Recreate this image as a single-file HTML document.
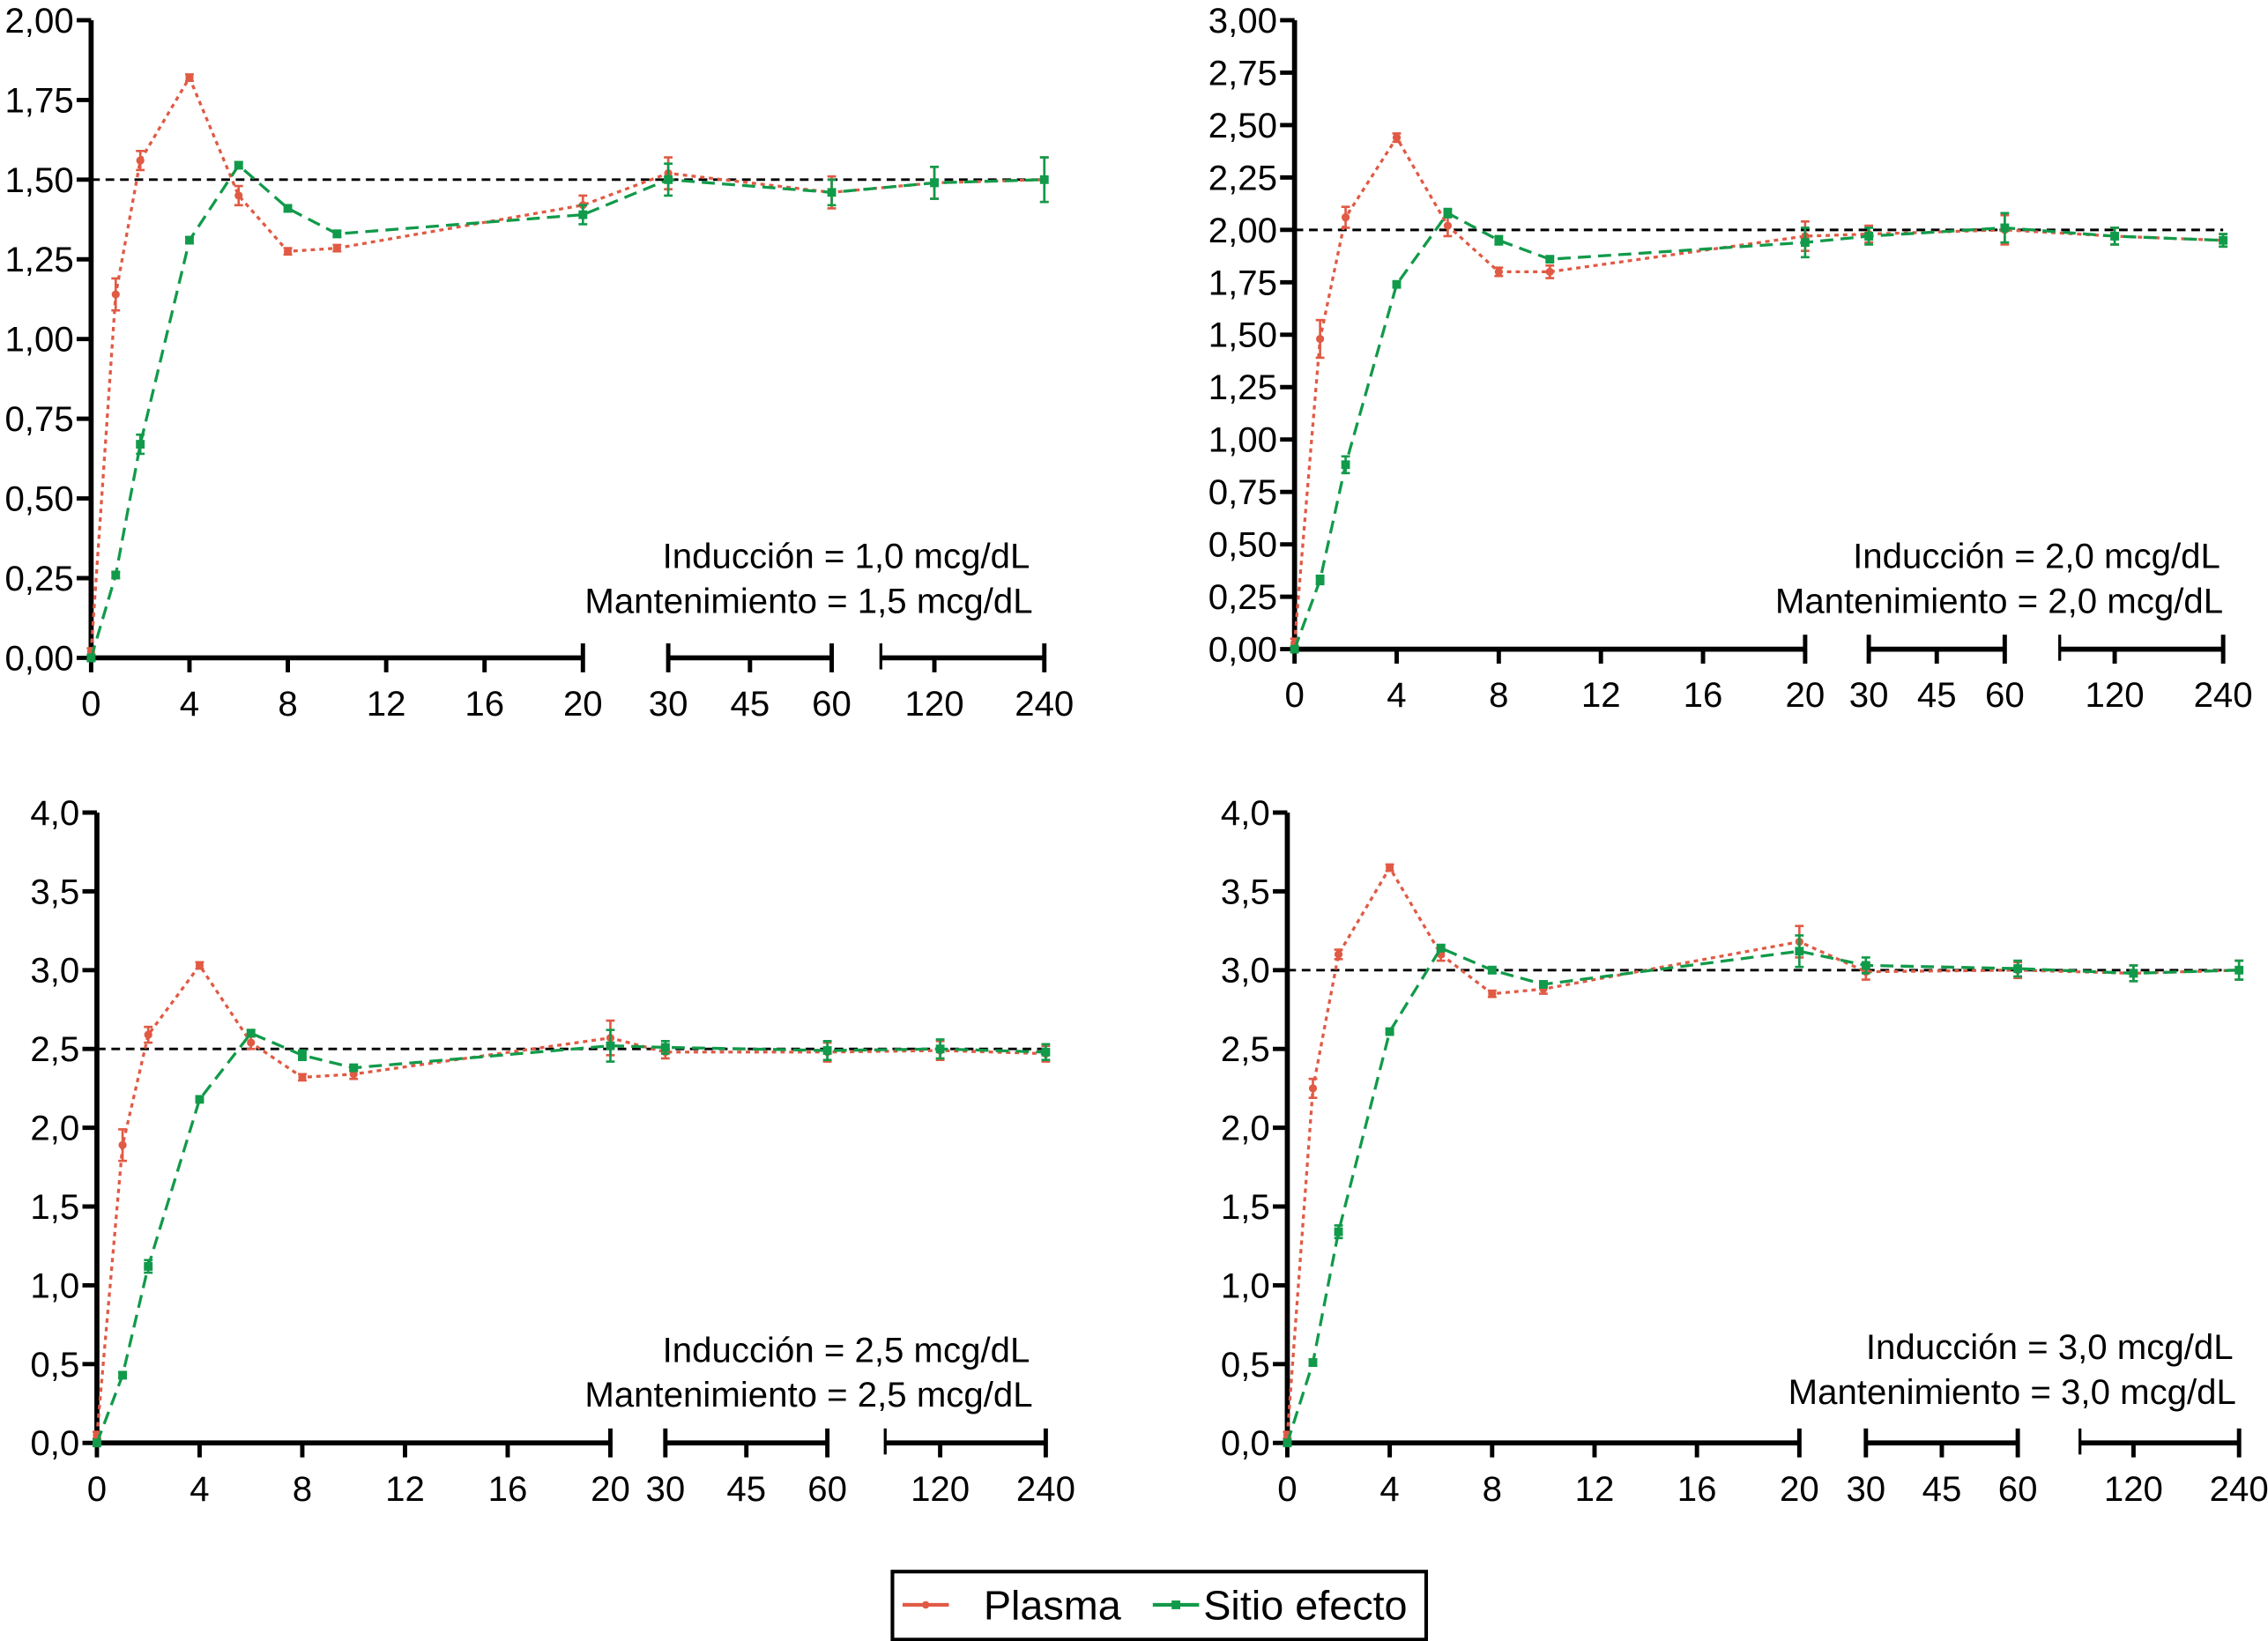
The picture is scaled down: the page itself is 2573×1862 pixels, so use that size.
<!DOCTYPE html>
<html><head><meta charset="utf-8"><style>
html,body{margin:0;padding:0;background:#fff;}
svg{display:block;}
text{font-family:"Liberation Sans",sans-serif;fill:#000;}
</style></head><body>
<svg id="chart" width="2573" height="1862" viewBox="0 0 1568 1135" preserveAspectRatio="none" xmlns="http://www.w3.org/2000/svg"></svg>
<script>
const times = [0,1,2,4,6,8,10,20,30,60,120,240];
const xTickLabels1 = [0,4,8,12,16,20];
const xTickLabels2 = [30,45,60];
const xTickLabels3 = [120,240];
const plasma1 = [0.02,1.14,1.56,1.82,1.45,1.275,1.285,1.42,1.52,1.46,1.49,1.50];
const sitio1  = [0,0.26,0.67,1.31,1.545,1.41,1.33,1.39,1.50,1.46,1.49,1.50];
const plasmaErr1 = [0.01,0.05,0.03,0.01,0.03,0.01,0.01,0.03,0.05,0.05,0.05,0.07];
const sitioErr1  = [0.01,0.01,0.03,0.01,0.01,0.01,0.01,0.03,0.05,0.04,0.05,0.07];
const plasma2 = [0.03,1.48,2.06,2.44,2.02,1.80,1.80,1.97,1.98,2.00,1.97,1.95];
const sitio2  = [0,0.33,0.88,1.74,2.08,1.95,1.86,1.94,1.97,2.01,1.97,1.95];
const plasmaErr2 = [0.02,0.09,0.05,0.02,0.05,0.02,0.03,0.07,0.04,0.07,0.04,0.03];
const sitioErr2  = [0.01,0.02,0.04,0.01,0.02,0.02,0.01,0.07,0.04,0.07,0.04,0.03];
const plasma3 = [0.05,1.89,2.59,3.03,2.54,2.32,2.34,2.57,2.48,2.48,2.49,2.47];
const sitio3  = [0,0.43,1.12,2.18,2.60,2.46,2.38,2.52,2.51,2.49,2.50,2.48];
const plasmaErr3 = [0.02,0.1,0.05,0.02,0.04,0.02,0.03,0.11,0.04,0.06,0.06,0.05];
const sitioErr3  = [0.01,0.02,0.04,0.01,0.02,0.03,0.02,0.1,0.04,0.06,0.06,0.05];
const plasma4 = [0.05,2.25,3.10,3.65,3.10,2.85,2.88,3.18,2.99,3.00,2.98,3.00];
const sitio4  = [0,0.51,1.34,2.61,3.14,3.00,2.91,3.12,3.03,3.01,2.98,3.00];
const plasmaErr4 = [0.02,0.06,0.03,0.02,0.04,0.02,0.03,0.1,0.05,0.05,0.05,0.06];
const sitioErr4  = [0.01,0.02,0.04,0.01,0.02,0.02,0.02,0.1,0.05,0.05,0.05,0.06];
const targets = [1.5,2.0,2.5,3.0];
const inductionLabels = ["Inducción = 1,0 mcg/dL","Inducción = 2,0 mcg/dL","Inducción = 2,5 mcg/dL","Inducción = 3,0 mcg/dL"];
const maintLabels = ["Mantenimiento = 1,5 mcg/dL","Mantenimiento = 2,0 mcg/dL","Mantenimiento = 2,5 mcg/dL","Mantenimiento = 3,0 mcg/dL"];
const yTicks1 = [0,0.25,0.5,0.75,1,1.25,1.5,1.75,2];
const yTicks2 = [0,0.25,0.5,0.75,1,1.25,1.5,1.75,2,2.25,2.5,2.75,3];
const yTicks3 = [0,0.5,1,1.5,2,2.5,3,3.5,4];

const NS="http://www.w3.org/2000/svg";
const svg=document.getElementById('chart');
function mk(tag,attrs,parent){const e=document.createElementNS(NS,tag);for(const k in attrs)e.setAttribute(k,attrs[k]);(parent||svg).appendChild(e);return e;}

const panels=[
 {plasma:plasma1,sitio:sitio1,pe:plasmaErr1,se:sitioErr1,yt:yTicks1,ymax:2,dec:2,ax:63,top:14,bot:455,x20:403,x30:462,x60:575,brk:609,x120:646,x240:722,tx:714,ty:385},
 {plasma:plasma2,sitio:sitio2,pe:plasmaErr2,se:sitioErr2,yt:yTicks2,ymax:3,dec:2,ax:895,top:14,bot:449,x20:1248,x30:1292,x60:1386,brk:1424,x120:1462,x240:1537,tx:1537,ty:385},
 {plasma:plasma3,sitio:sitio3,pe:plasmaErr3,se:sitioErr3,yt:yTicks3,ymax:4,dec:1,ax:67,top:562,bot:998,x20:422,x30:460,x60:572,brk:612,x120:650,x240:723,tx:714,ty:934},
 {plasma:plasma4,sitio:sitio4,pe:plasmaErr4,se:sitioErr4,yt:yTicks3,ymax:4,dec:1,ax:890,top:562,bot:998,x20:1244,x30:1290,x60:1395,brk:1438,x120:1475,x240:1548,tx:1546,ty:932}
];

panels.forEach((p,i)=>{
 const g=mk('g',{});
 
 
 const y=v=>p.bot-(v/p.ymax)*(p.bot-p.top);
 const x=t=>{
   if(t<=20) return p.ax+t/20*(p.x20-p.ax);
   if(t<=60) return p.x30+(t-30)/30*(p.x60-p.x30);
   return p.x120+Math.log2(t/120)*(p.x240-p.x120);
 };
 const ya=mk('line',{x1:p.ax,y1:p.top,x2:p.ax,y2:p.bot,stroke:'#000','stroke-width':3.5},g);
 
 
 p.yt.forEach(v=>{
   mk('line',{x1:p.ax-10,y1:y(v),x2:p.ax,y2:y(v),stroke:'#000','stroke-width':3},g);
   const t=mk('text',{x:p.ax-12,y:y(v)+8.5,'text-anchor':'end','font-size':24.5},g);
   
   
   t.textContent=v.toFixed(p.dec).replace('.',',');
 });
 const xa=mk('g',{},g);
 
 
 mk('line',{x1:p.ax,y1:p.bot,x2:x(20),y2:p.bot,stroke:'#000','stroke-width':3.5},xa);
 mk('line',{x1:x(30),y1:p.bot,x2:x(60),y2:p.bot,stroke:'#000','stroke-width':3.5},xa);
 mk('line',{x1:p.brk,y1:p.bot,x2:x(240),y2:p.bot,stroke:'#000','stroke-width':3.5},xa);
 mk('line',{x1:p.brk,y1:p.bot-10,x2:p.brk,y2:p.bot+8,stroke:'#000','stroke-width':2},xa);
 const allTicks=xTickLabels1.concat(xTickLabels2,xTickLabels3);
 allTicks.forEach(t=>{
   const edge=(t===20||t===30||t===60||t===240);
   mk('line',{x1:x(t),y1:edge?p.bot-10:p.bot,x2:x(t),y2:p.bot+10,stroke:'#000','stroke-width':3},xa);
   const tl=mk('text',{x:x(t),y:p.bot+40,'text-anchor':'middle','font-size':24.5},xa);
   
   
   tl.textContent=t;
 });
 const tg=mk('line',{x1:p.ax,y1:y(targets[i]),x2:x(240),y2:y(targets[i]),stroke:'#000','stroke-width':1.8,'stroke-dasharray':'6,4'},g);
 
 
 [[p.plasma,p.pe,'#e05a44','3,3','plasma'],[p.sitio,p.se,'#119a4a','9,5','sitio-efecto']].forEach(([vals,errs,col,dash,nm])=>{
   const sg=mk('g',{},g);
   
   
   const pts=times.map((t,k)=>x(t)+','+y(vals[k])).join(' ');
   const pl=mk('polyline',{points:pts,fill:'none',stroke:col,'stroke-width':2,'stroke-dasharray':dash},sg);
   
   
   times.forEach((t,k)=>{
     const cx=x(t),hi=y(vals[k]+errs[k]),lo=y(vals[k]-errs[k]);
     mk('path',{d:`M${cx},${hi}V${lo}M${cx-3},${hi}H${cx+3}M${cx-3},${lo}H${cx+3}`,stroke:col,'stroke-width':1.6,fill:'none'},sg);
     const m=nm==='plasma'?mk('circle',{cx:cx,cy:y(vals[k]),r:2.8,fill:col},sg):mk('rect',{x:cx-3,y:y(vals[k])-3,width:6,height:6,fill:col},sg);
     
     
   });
 });
 const a1=mk('text',{x:p.tx-2,y:p.ty+8,'text-anchor':'end','font-size':24.5},g);
 
 
 a1.textContent=inductionLabels[i];
 const a2=mk('text',{x:p.tx,y:p.ty+39,'text-anchor':'end','font-size':24.5},g);
 
 
 a2.textContent=maintLabels[i];
});

const lg=mk('g',{});


mk('rect',{x:617,y:1087,width:369,height:47,fill:'#fff',stroke:'#000','stroke-width':2.5},lg);
const le1=mk('g',{},lg);


mk('line',{x1:624,y1:1110,x2:656,y2:1110,stroke:'#e05a44','stroke-width':2.5},le1);
mk('circle',{cx:640,cy:1110,r:2.6,fill:'#e05a44'},le1);
const t1=mk('text',{x:680,y:1120,'font-size':28.5},le1);t1.textContent='Plasma';
const le2=mk('g',{},lg);


mk('line',{x1:797,y1:1110,x2:829,y2:1110,stroke:'#119a4a','stroke-width':2.5},le2);
mk('rect',{x:810,y:1107,width:6,height:6,fill:'#119a4a'},le2);
const t2=mk('text',{x:832,y:1120,'font-size':28.5},le2);t2.textContent='Sitio efecto';
</script>
</body></html>
